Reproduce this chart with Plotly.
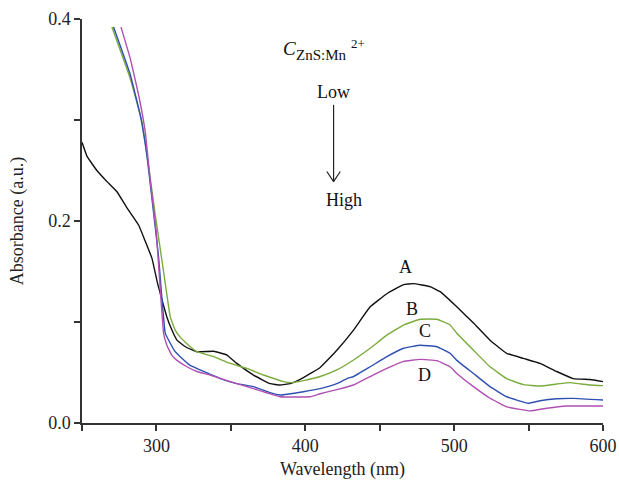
import plotly.graph_objects as go

# Curve A (black)
a_x = [250, 253.4, 260, 266.8, 273.5, 280.2, 288, 292.5, 297, 300.8, 303.7, 307, 310.4, 313.8, 319.4, 327.2,
       338.4, 347.4, 354, 365.2, 376.4, 383.1, 389.9, 398.8, 410, 421.2, 432.4, 443.6, 454.8, 466,
       472.6, 483.8, 490.6, 501.8, 513, 524.1, 535.3, 546.5, 557.7, 568.9, 580, 591.3, 600]
a_y = [0.278, 0.264, 0.250, 0.239, 0.229, 0.213, 0.196, 0.180, 0.163, 0.138, 0.122, 0.105, 0.092, 0.082, 0.0755, 0.0706,
       0.071, 0.0673, 0.059, 0.0475, 0.039, 0.0376, 0.039, 0.0450, 0.055, 0.072, 0.092, 0.115, 0.128, 0.137,
       0.138, 0.135, 0.130, 0.115, 0.099, 0.082, 0.069, 0.064, 0.059, 0.051, 0.044, 0.043, 0.041]

# Curve B (green)
b_x = [270.1, 282.4, 290.3, 294.7, 299.2, 304.8, 309.3, 312.6, 316, 319.4, 322.7, 327.2, 338.4, 349.6, 360.8,
       372, 385.4, 389.9, 398.8, 410, 421.2, 432.4, 443.6, 454.8, 466, 477.2, 488.4, 497.3, 501.8, 513,
       524.1, 535.3, 546.5, 557.7, 568.9, 577.9, 591.3, 600]
b_y = [0.392, 0.341, 0.298, 0.255, 0.206, 0.150, 0.105, 0.092, 0.085, 0.080, 0.0755, 0.0706, 0.0657, 0.059, 0.054,
       0.0475, 0.041, 0.040, 0.042, 0.046, 0.0525, 0.0624, 0.074, 0.087, 0.097, 0.1027, 0.1027, 0.097, 0.0888, 0.072,
       0.0557, 0.044, 0.038, 0.0366, 0.0386, 0.040, 0.0376, 0.037]

# Curve C (blue)
c_x = [271.2, 282.4, 289.1, 293.6, 297, 301.4, 305.9, 309.3, 312.6, 316, 322.7, 329.4, 342.9, 354, 365.2,
       376.4, 383.1, 398.8, 410, 421.2, 428, 432.4, 443.6, 454.8, 466, 477.2, 488.4, 497.3, 501.8, 513,
       524.1, 535.3, 549.9, 557.7, 568.9, 580, 600]
c_y = [0.392, 0.345, 0.305, 0.265, 0.222, 0.165, 0.089, 0.079, 0.0706, 0.0657, 0.057, 0.0525, 0.044, 0.039, 0.036,
       0.030, 0.0277, 0.031, 0.034, 0.039, 0.044, 0.046, 0.0557, 0.0657, 0.074, 0.077, 0.0755, 0.069, 0.062, 0.049,
       0.036, 0.026, 0.0195, 0.022, 0.024, 0.0244, 0.0228]

# Curve D (magenta)
d_x = [276.2, 282.4, 288, 292.5, 295.9, 299.9, 304.8, 307, 310.4, 313.8, 320.5, 327.2, 336.1, 349.6, 365.2,
       383.1, 403.3, 410, 421.2, 432.4, 443.6, 454.8, 466, 477.2, 488.4, 497.3, 501.8, 513, 524.1, 535.3,
       551, 562.2, 575.6, 600]
d_y = [0.392, 0.361, 0.325, 0.288, 0.239, 0.189, 0.089, 0.077, 0.067, 0.062, 0.0557, 0.051, 0.0475, 0.041, 0.034,
       0.026, 0.026, 0.029, 0.033, 0.0376, 0.046, 0.054, 0.061, 0.063, 0.0617, 0.0557, 0.049, 0.036, 0.0245, 0.016,
       0.012, 0.0146, 0.0168, 0.0168]

x_ticks = [300, 400, 500, 600]
y_ticks = [0.0, 0.2, 0.4]
y_ticktext = ["0.0", "0.2", "0.4"]

FONT = "Liberation Serif"
FS = 18
AX = "#333333"

fig = go.Figure()
for xs, ys, col in [(a_x, a_y, "#111111"), (b_x, b_y, "#7aab3c"),
                    (c_x, c_y, "#2f50b0"), (d_x, d_y, "#b04fb3")]:
    fig.add_trace(go.Scatter(x=xs, y=ys, mode="lines",
                             line=dict(color=col, width=1.4, shape="spline", smoothing=0.3),
                             showlegend=False, hoverinfo="skip"))

axis_common = dict(showline=True, linecolor=AX, linewidth=1.5, ticks="outside", ticklen=6,
                   tickwidth=1.5, tickcolor=AX, showgrid=False, zeroline=False, automargin=False,
                   tickfont=dict(family=FONT, size=FS, color="#222222"),
                   title_font=dict(family=FONT, size=FS, color="#222222"))

fig.update_xaxes(range=[250, 600], tickmode="array", tickvals=x_ticks,
                 minor=dict(tick0=250, dtick=50, ticks="outside", ticklen=6, tickwidth=1.5, tickcolor=AX),
                 title_text="Wavelength (nm)", title_standoff=7, **axis_common)
fig.update_yaxes(range=[0, 0.4], tickmode="array", tickvals=y_ticks, ticktext=y_ticktext,
                 minor=dict(tick0=0, dtick=0.1, ticks="outside", ticklen=6, tickwidth=1.5, tickcolor=AX),
                 title_text="Absorbance (a.u.)", title_standoff=20, **axis_common)

ann_font = dict(family=FONT, size=FS, color="#111111")
for txt, x, y in [("A", 467, 0.154), ("B", 471.8, 0.113), ("C", 480.5, 0.091), ("D", 479.8, 0.0475),
                  ("Low", 418.8, 0.328), ("High", 426, 0.221)]:
    fig.add_annotation(x=x, y=y, text=txt, showarrow=False, font=ann_font, xref="x", yref="y")

# concentration label C_{ZnS:Mn^{2+}}
fig.add_annotation(x=389.1, y=0.371, text="<i>C</i>", showarrow=False,
                   font=dict(family=FONT, size=19, color="#111111"), xref="x", yref="y")
fig.add_annotation(x=392.2, y=0.364, text="ZnS:Mn", showarrow=False, xanchor="left",
                   font=dict(family=FONT, size=15, color="#111111"), xref="x", yref="y")
fig.add_annotation(x=429.5, y=0.376, text="2+", showarrow=False, xanchor="left",
                   font=dict(family=FONT, size=13, color="#111111"), xref="x", yref="y")

# arrow from "Low" to "High"
arrow_x = 419
fig.add_shape(type="line", x0=arrow_x, x1=arrow_x, y0=0.315, y1=0.239, xref="x", yref="y",
              line=dict(color="#222222", width=1.2))
fig.add_shape(type="line", x0=arrow_x - 4.5, x1=arrow_x, y0=0.249, y1=0.239, xref="x", yref="y",
              line=dict(color="#222222", width=1.2))
fig.add_shape(type="line", x0=arrow_x + 4.5, x1=arrow_x, y0=0.249, y1=0.239, xref="x", yref="y",
              line=dict(color="#222222", width=1.2))

fig.update_layout(width=619, height=491, margin=dict(l=82, r=16, t=19, b=68),
                  plot_bgcolor="white", paper_bgcolor="white")

# remove the default page margin so the figure sits at the window's top-left corner
fig.write_html("out.html", config={"displayModeBar": False},
               post_script="document.body.style.margin='0';")
